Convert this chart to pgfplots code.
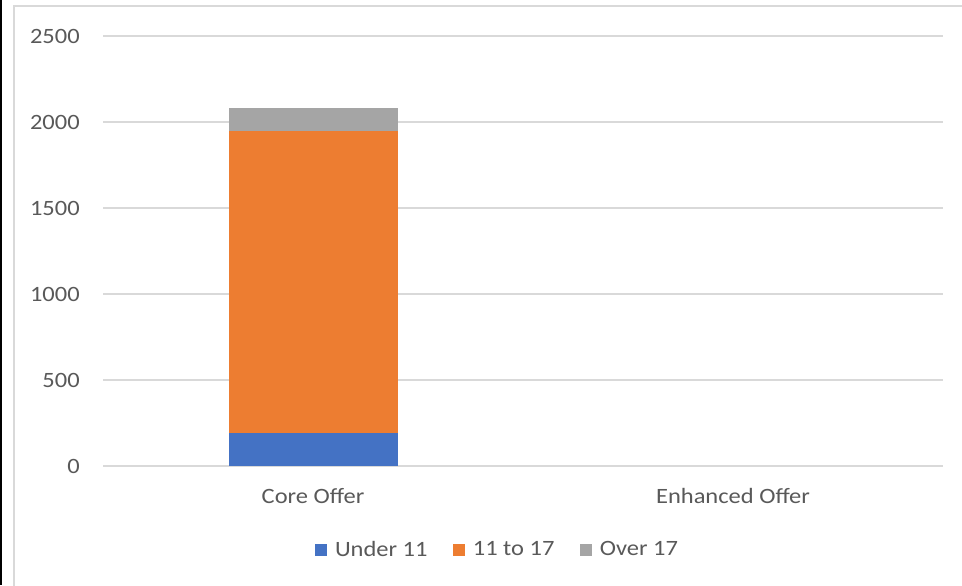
\documentclass[border=0pt]{standalone}
\usepackage{pgfplots}
\pgfplotsset{compat=1.18}
\usepackage{fontspec}
\setmainfont{Carlito}[FakeStretch=1.12]
\definecolor{cblue}{HTML}{4472C4}
\definecolor{corange}{HTML}{ED7D31}
\definecolor{cgray}{HTML}{A5A5A5}
\definecolor{ctext}{HTML}{595959}
\definecolor{cgrid}{HTML}{D9D9D9}
\begin{document}
\begin{tikzpicture}
\useasboundingbox (0,0) rectangle (721.5pt,438.75pt);
\begin{scope}
\clip (0,0) rectangle (721.5pt,438.75pt);
\draw[cgrid, line width=1.1pt] (10.5pt,-10pt) rectangle (740pt,434.25pt);
\fill[black] (0,0) rectangle (1.5pt,438.75pt);
\end{scope}
\begin{axis}[
  at={(77.25pt,89.25pt)}, anchor=south west,
  scale only axis, width=630pt, height=322.5pt,
  xmin=-0.5, xmax=1.5, ymin=0, ymax=2500,
  ybar stacked, bar width=126.75pt,
  xtick={0,1}, xticklabels={Core Offer,Enhanced Offer},
  ytick={0,500,1000,1500,2000,2500},
  ymajorgrids, major grid style={cgrid, line width=0.9pt},
  axis line style={draw=none},
  major tick length=0pt,
  /pgf/number format/assume math mode=true,
  scaled y ticks=false,
  yticklabel={\pgfmathprintnumber[fixed,precision=0,1000 sep={}]{\tick}},
  tick label style={font=\fontsize{16.4}{19}\selectfont, text=ctext},
  yticklabel style={anchor=east, inner sep=0pt, xshift=-17.25pt},
  xticklabel style={anchor=center, inner sep=0pt, yshift=-22.5pt},
  legend columns=3,
  legend style={at={(0.47,-0.195)}, anchor=center, draw=none, fill=none,
    font=\fontsize{16.4}{19}\selectfont, text=ctext,
    /tikz/every even column/.append style={column sep=17pt},
    /tikz/every odd column/.append style={column sep=4pt},
    inner sep=0pt},
  legend image code/.code={\fill[#1,draw=none] (0pt,-4.5pt) rectangle (9pt,4.5pt);},
  clip=false,
]
\addplot[fill=cblue, draw=none] coordinates {(0,190) (1,0)};
\addplot[fill=corange, draw=none] coordinates {(0,1755) (1,0)};
\addplot[fill=cgray, draw=none] coordinates {(0,135) (1,0)};
\legend{Under 11, 11 to 17, Over 17}
\end{axis}
\end{tikzpicture}
\end{document}
